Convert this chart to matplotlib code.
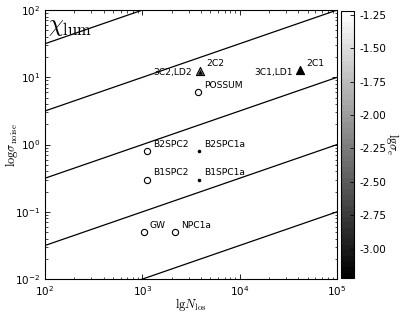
import numpy as np
import matplotlib
matplotlib.use("Agg")
import matplotlib.pyplot as plt
from matplotlib.colors import Normalize


# -----------------------------
# DATA
# -----------------------------
names   = ["2C1", "2C2", "POSSUM", "B2SPC2", "B2SPC1a", "B1SPC2", "B1SPC1a", "GW", "NPC1a"]
n_los   = [42000, 3900, 3750, 1130, 3780, 1130, 3780, 1040, 2150]
s_noise = [12.8, 12.6, 6.0, 0.79, 0.80, 0.30, 0.30, 0.050, 0.050]
lg_se   = [-3.22, -1.9, -1.22, -1.22, -3.22, -1.22, -3.22, -1.22, -1.22]
markers = ["^", "^", "o", "o", ".", "o", ".", "o", "o"]

# extra labels written to the left of the triangles
left_names = ["3C1,LD1", "3C2,LD2"]
left_n     = [42000, 3900]
left_s     = [12.8, 12.6]

# guide lines (values at N_los = 1e2 and 1e5)
line_n     = [1e2, 1e5]
line_left  = [31.6, 3.16, 0.316, 0.0316, 0.00316]
line_right = [1000.0, 100.0, 10.0, 1.0, 0.1]

cb_ticks = [-3.00, -2.75, -2.50, -2.25, -2.00, -1.75, -1.50, -1.25]
vmin, vmax = -3.22, -1.22


# -----------------------------
# PLOT
# -----------------------------
plt.rcParams['font.size'] = 7
plt.rcParams['xtick.direction'] = 'in'
plt.rcParams['ytick.direction'] = 'in'
plt.rcParams['xtick.top'] = True
plt.rcParams['ytick.right'] = True

fig = plt.figure(figsize=(4.09, 3.15), dpi=100)
ax = fig.add_axes([0.110, 0.114, 0.714, 0.854])
cax = fig.add_axes([0.834, 0.117, 0.0325, 0.849])

for yl, yr in zip(line_left, line_right):
    ax.plot(line_n, [yl, yr], color='k', lw=0.9, zorder=1)

cmap = plt.get_cmap('gray', 48)
norm = Normalize(vmin=vmin, vmax=vmax)

sizes = {"^": 34, "o": 20, ".": 12}
for name, x, y, c, m in zip(names, n_los, s_noise, lg_se, markers):
    ax.scatter([x], [y], c=[c], cmap=cmap, norm=norm, marker=m, s=sizes[m],
               edgecolors='k', linewidths=0.8, zorder=3)
    ax.annotate(name, (x, y), xytext=(6, 7), textcoords='offset pixels',
                ha='left', va='center', fontsize=6.6)

# small dark triangle inside the 2C2 one
ax.scatter([n_los[1]], [s_noise[1] * 0.94], c=[vmin], cmap=cmap, norm=norm,
           marker='^', s=8, edgecolors='k', linewidths=0.4, zorder=4)

for name, x, y in zip(left_names, left_n, left_s):
    ax.annotate(name, (x, y), xytext=(-8, -2), textcoords='offset pixels',
                ha='right', va='center', fontsize=6.6)

ax.set_xscale('log')
ax.set_yscale('log')
ax.set_xlim(1e2, 1e5)
ax.set_ylim(1e-2, 1e2)
ax.tick_params(which='major', length=3.5, width=0.6, labelsize=7.5)
ax.tick_params(which='minor', length=1.8, width=0.5)

ax.set_xlabel(r'$\mathrm{lg}N_{\rm los}$', fontsize=9, math_fontfamily='cm')
ax.xaxis.set_label_coords(0.5, -0.063)
ax.set_ylabel(r'$\mathrm{log}\sigma_{\rm noise}$', fontsize=9, math_fontfamily='cm')
ax.yaxis.set_label_coords(-0.085, 0.5)
ax.text(0.01, 0.985, r'$\chi_{\rm lum}$', transform=ax.transAxes,
        ha='left', va='top', fontsize=17, math_fontfamily='cm')

sm = plt.cm.ScalarMappable(cmap=cmap, norm=norm)
cb = fig.colorbar(sm, cax=cax, ticks=cb_ticks)
cb.ax.set_yticklabels(["%.2f" % t for t in cb_ticks])
cb.ax.tick_params(direction='in', length=3, width=0.6, labelsize=7.5)
cb.set_label(r'$\mathrm{lg}\sigma_{\rm e}$', rotation=270, fontsize=9,
             math_fontfamily='cm')
cb.ax.yaxis.label.set_va('center')
cb.ax.yaxis.set_label_coords(3.9, 0.5)

fig.savefig("out.png", dpi=100)
